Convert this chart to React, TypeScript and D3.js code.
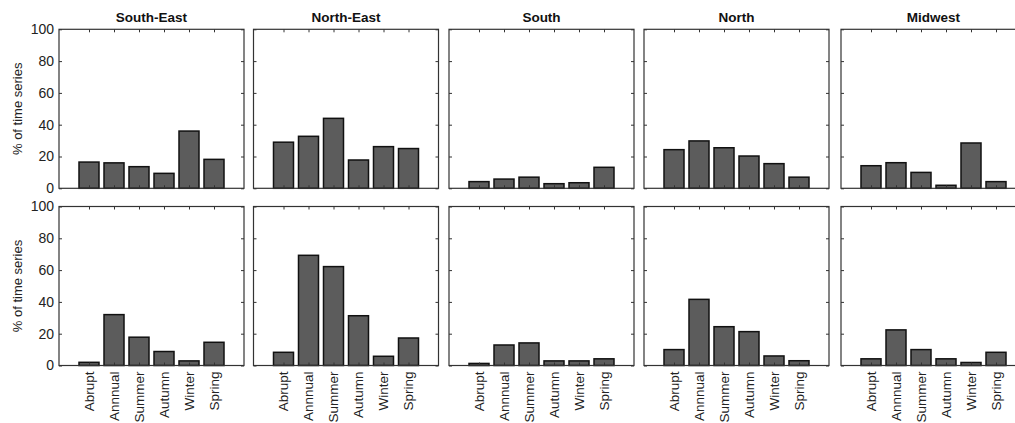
import React, { useEffect, useRef } from 'react'
import { select, scaleLinear, axisLeft, axisRight, axisTop, axisBottom } from 'd3'

// small multiples: one column per region, two rows of bars
const regions = ['South-East', 'North-East', 'South', 'North', 'Midwest']
const categories = ['Abrupt', 'Annnual', 'Summer', 'Autumn', 'Winter', 'Spring']
const yTicks = [0, 20, 40, 60, 80, 100]

// top row (% of time series)
const topSouthEast = [16.5, 16, 13.6, 9.4, 36, 18.2]
const topNorthEast = [29, 32.7, 44, 17.8, 26.2, 25]
const topSouth = [4.2, 5.8, 7, 2.9, 3.5, 13.2]
const topNorth = [24.3, 29.8, 25.5, 20.3, 15.5, 7]
const topMidwest = [14.2, 16.1, 10, 1.9, 28.5, 4.2]

// bottom row
const botSouthEast = [2, 32, 17.8, 8.8, 2.9, 14.6]
const botNorthEast = [8.3, 69.3, 62.2, 31.3, 5.8, 17.3]
const botSouth = [1.3, 12.9, 14.2, 2.9, 2.9, 4.2]
const botNorth = [10, 41.6, 24.4, 21.3, 6, 3]
const botMidwest = [4.2, 22.4, 10, 4.2, 1.9, 8.3]

const rows = [
  [topSouthEast, topNorthEast, topSouth, topNorth, topMidwest],
  [botSouthEast, botNorthEast, botSouth, botNorth, botMidwest],
]

const W = 1015
const H = 423
const panelW = 185
const panelH = 159
const panelLeft = [59, 253.5, 449, 644, 841]
const panelTop = [29.3, 206.5]
const font = 'Liberation Sans, Arial, sans-serif'

const App = () => {
  const svgRef = useRef<SVGSVGElement>(null)

  useEffect(() => {
    const svg = select(svgRef.current)
    svg.selectAll('*').remove()

    const x = scaleLinear().domain([-0.2, 7.2]).range([0, panelW])
    const y = scaleLinear().domain([0, 100]).range([panelH, 0])
    const barW = x(0.8) - x(0)
    const idx = categories.map((_, i) => i + 1)

    rows.forEach((row, r) => {
      row.forEach((vals, c) => {
        const g = svg.append('g')
          .attr('transform', `translate(${panelLeft[c]},${panelTop[r]})`)

        g.selectAll('.bar')
          .data(vals)
          .join('rect')
          .attr('class', 'bar')
          .attr('x', (_, i) => x(i + 1) - barW / 2)
          .attr('y', d => y(d))
          .attr('width', barW)
          .attr('height', d => y(0) - y(d))
          .attr('fill', '#5c5c5c')
          .attr('stroke', '#111')
          .attr('stroke-width', 1.5)

        // inward ticks on all four sides
        const left = axisLeft(y).tickValues(yTicks).tickSize(-3).tickPadding(5)
        if (c > 0) left.tickFormat(() => '')
        const axes = [
          g.append('g').call(left),
          g.append('g').attr('transform', `translate(${panelW},0)`)
            .call(axisRight(y).tickValues(yTicks).tickSize(-3).tickFormat(() => '')),
          g.append('g').call(axisTop(x).tickValues(idx).tickSize(-3).tickFormat(() => '')),
          g.append('g').attr('transform', `translate(0,${panelH})`)
            .call(axisBottom(x).tickValues(idx).tickSize(-3).tickFormat(() => '')),
        ]
        axes.forEach(a => {
          a.select('.domain').remove()
          a.selectAll('line').attr('stroke', '#333')
          a.selectAll('text')
            .attr('font-family', font)
            .attr('font-size', 14)
            .attr('fill', '#222')
        })

        g.append('rect')
          .attr('width', panelW)
          .attr('height', panelH)
          .attr('fill', 'none')
          .attr('stroke', '#333')
          .attr('stroke-width', 1.2)

        if (r === 0) {
          g.append('text')
            .attr('x', panelW / 2)
            .attr('y', -7)
            .attr('text-anchor', 'middle')
            .attr('font-family', font)
            .attr('font-weight', 'bold')
            .attr('font-size', 13.5)
            .attr('fill', '#111')
            .text(regions[c])
        }

        if (r === 1) {
          g.selectAll('.xlab')
            .data(categories)
            .join('text')
            .attr('class', 'xlab')
            .attr('transform', (_, i) => `translate(${x(i + 1)},${panelH + 6}) rotate(-90)`)
            .attr('dy', '0.35em')
            .attr('text-anchor', 'end')
            .attr('font-family', font)
            .attr('font-size', 13.5)
            .attr('fill', '#222')
            .text(d => d)
        }

        if (c === 0) {
          g.append('text')
            .attr('transform', `translate(${17 - panelLeft[0]},${panelH / 2}) rotate(-90)`)
            .attr('dy', '0.35em')
            .attr('text-anchor', 'middle')
            .attr('font-family', font)
            .attr('font-size', 13)
            .attr('fill', '#222')
            .text('% of time series')
        }
      })
    })
  }, [])

  return (
    <svg
      ref={svgRef}
      width={W}
      height={H}
      style={{ position: 'absolute', left: 0, top: 0, background: '#fff' }}
    />
  )
}

export default App
